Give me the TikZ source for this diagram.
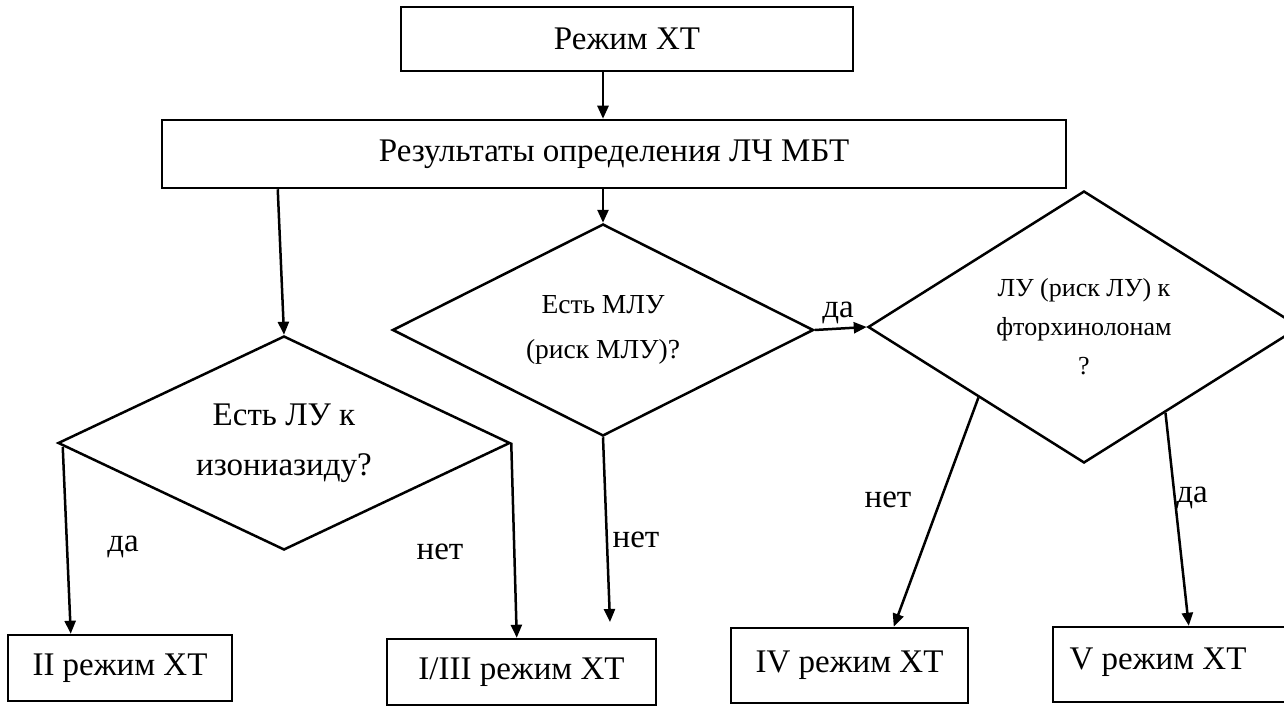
\documentclass[tikz,border=0pt]{standalone}
\usepackage{fontspec}
\setmainfont{Liberation Serif}
\usetikzlibrary{shapes.geometric,arrows.meta,calc}
\begin{document}
\begin{tikzpicture}[x=1pt,y=-1pt,
  box/.style={draw, line width=2.5pt, inner sep=0pt, font=\fontsize{33}{40}\selectfont},
  dia/.style={diamond, draw, line width=2.5pt, inner sep=0pt, align=center},
  lbl/.style={inner sep=0pt, font=\fontsize{33}{40}\selectfont},
  arr/.style={line width=2.5pt, -{Triangle[length=13pt,width=11pt]}}]
\fill[white] (0,0) rectangle (1284,714);
\useasboundingbox (0,0) rectangle (1284,714);

\node[box, minimum width=452pt, minimum height=64pt] (top) at (627,39) {Режим ХТ};
\node[box, minimum width=904pt, minimum height=68pt] (res) at (614,154) {Результаты определения ЛЧ МБТ};

\node[dia, aspect=2.1, minimum width=452pt, minimum height=214pt,
      font=\fontsize{33}{50}\selectfont] (d1) at (284,443) {Есть ЛУ к\\изониазиду?};
\node[dia, aspect=2, minimum width=421pt, minimum height=212pt,
      font=\fontsize{27.5}{45}\selectfont] (d2) at (603,330) {Есть МЛУ\\(риск МЛУ)?};
\node[dia, aspect=1.6, minimum width=432pt, minimum height=272pt,
      font=\fontsize{26}{39}\selectfont] (d3) at (1084,327) {ЛУ (риск ЛУ) к\\фторхинолонам\\?};

\node[box, minimum width=224pt, minimum height=66pt] (ii) at (120,668) {II режим ХТ};
\node[box, minimum width=269pt, minimum height=66pt] (i3) at (521.5,672) {I/III режим ХТ};
\node[box, minimum width=237pt, minimum height=75pt] (iv) at (849.5,665.5) {IV режим ХТ};
\node[box, minimum width=242pt, minimum height=75pt] (v) at (1174,664.5) {};
\node[lbl] (vt) at (1158,662) {V режим ХТ};

\coordinate (n2) at (610,622);

\draw[arr] (top.south -| d2.north) -- (res.north -| d2.north);
\draw[arr] (res.south -| d2.north) -- (d2.north);
\draw[arr] ($(res.south west)+(117,0)$) -- (d1.north);
\draw[arr] ($(d1.west)+(6,4)$) -- ($(ii.north west)+(64,0)$);
\draw[arr] (d1.east) -- ($(i3.north west)+(131,0)$);
\draw[arr] (d2.south) -- (n2);
\draw[arr] (d2.east) -- (d3.west);
\draw[arr] ($(d3.west)!0.514!(d3.south)$) -- ($(iv.north west)+(164,0)$);
\draw[arr] ($(d3.south)!0.375!(d3.east)$) -- ($(v.north west)+(137,0)$);

\node[lbl] (l1) at (123,547) {да};
\node[lbl] (l2) at (440,552) {нет};
\node[lbl] (l3) at (636,540) {нет};
\node[lbl] (l4) at (838,313) {да};
\node[lbl] (l5) at (888,500) {нет};
\node[lbl] (l6) at (1192,498) {да};
\end{tikzpicture}
\end{document}
